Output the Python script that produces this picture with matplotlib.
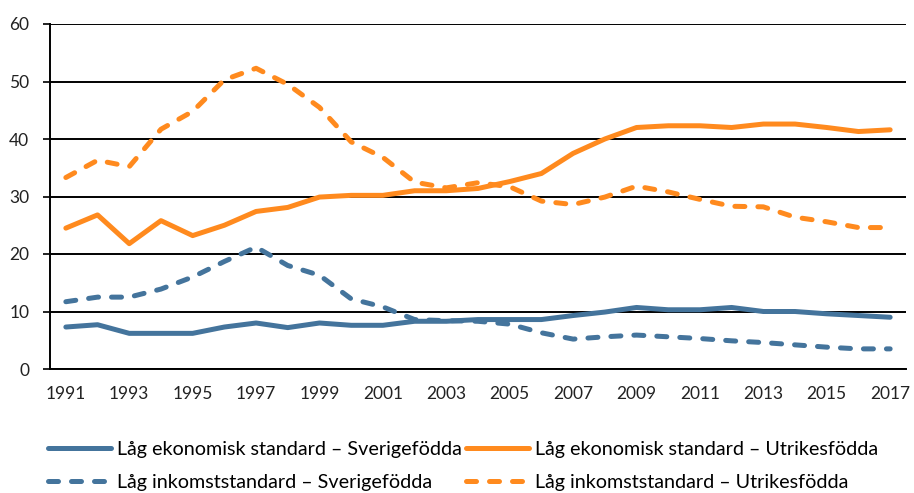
import matplotlib
matplotlib.use("Agg")
import matplotlib.pyplot as plt

plt.rcParams['font.family'] = ['Lato', 'DejaVu Sans']

years = list(range(1991, 2018))

ek_sverige = [7.3, 7.7, 6.2, 6.2, 6.2, 7.3, 8.0, 7.2, 8.0, 7.6, 7.6, 8.3, 8.3, 8.6,
              8.6, 8.6, 9.3, 9.9, 10.7, 10.3, 10.3, 10.7, 10.0, 10.0, 9.6, 9.3, 9.0]
ek_utrikes = [24.5, 26.8, 21.8, 25.8, 23.2, 25.0, 27.4, 28.1, 29.9, 30.2, 30.2, 31.0,
              31.0, 31.4, 32.6, 34.0, 37.5, 40.0, 42.0, 42.3, 42.3, 42.0, 42.6, 42.6,
              42.0, 41.3, 41.6]
ink_sverige = [11.7, 12.5, 12.5, 13.9, 16.0, 18.7, 21.2, 18.0, 16.3, 12.2, 10.8, 8.6,
               8.4, 8.3, 7.8, 6.3, 5.2, 5.6, 5.9, 5.6, 5.3, 4.9, 4.6, 4.2, 3.8, 3.5, 3.5]
ink_utrikes = [33.3, 36.3, 35.2, 41.7, 44.8, 50.3, 52.3, 49.5, 45.5, 39.5, 36.8, 32.5,
               31.5, 32.4, 31.7, 29.2, 28.6, 29.9, 31.8, 30.8, 29.5, 28.3, 28.2, 26.4,
               25.6, 24.6, 24.6]

labels = ["Låg ekonomisk standard – Sverigefödda",
          "Låg ekonomisk standard – Utrikesfödda",
          "Låg inkomststandard – Sverigefödda",
          "Låg inkomststandard – Utrikesfödda"]

blue = "#44749C"
orange = "#FF8A1E"

fig = plt.figure(figsize=(9.14, 4.93), dpi=100)
ax = fig.add_axes([50 / 914, 1 - 369 / 493, 856 / 914, 345 / 493])

lw = 3.6
l1, = ax.plot(years, ek_sverige, color=blue, lw=lw, solid_joinstyle="round",
              solid_capstyle="round", zorder=3)
l2, = ax.plot(years, ek_utrikes, color=orange, lw=lw, solid_joinstyle="round",
              solid_capstyle="round", zorder=3)
l3, = ax.plot(years, ink_sverige, color=blue, lw=lw, dashes=(2, 2.6),
              dash_capstyle="round", zorder=3)
l4, = ax.plot(years, ink_utrikes, color=orange, lw=lw, dashes=(2, 2.6),
              dash_capstyle="round", zorder=3)

ax.set_xlim(1990.5, 2017.5)
ax.set_ylim(0, 60)
ax.set_yticks(range(0, 61, 10))
ax.set_xticks(range(1991, 2018, 2))
ax.yaxis.grid(True, color="black", lw=1.4)
ax.set_axisbelow(True)
for s in ["top", "right"]:
    ax.spines[s].set_visible(False)
ax.spines["left"].set_linewidth(1.4)
ax.spines["bottom"].set_linewidth(1.4)
ax.tick_params(axis="y", length=5, width=1.4, pad=10, labelsize=12.5, colors="#222222")
ax.tick_params(axis="x", length=0, pad=12, labelsize=12.5, colors="#222222")

# legend fills column-wise, so order handles to get the reference rows
fig.legend([l1, l3, l2, l4], [labels[0], labels[2], labels[1], labels[3]],
           ncol=2, loc="center left", bbox_to_anchor=(30 / 914, 1 - 466 / 493),
           frameon=False, fontsize=14.2, handlelength=3.2, handletextpad=0.3,
           columnspacing=0.2, labelspacing=0.85)

fig.savefig("out.png", dpi=100)
